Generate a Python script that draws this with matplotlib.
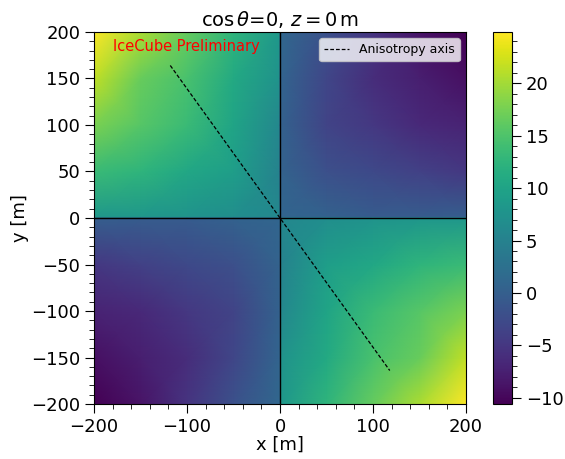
import numpy as np
import matplotlib
matplotlib.use("Agg")
import matplotlib.pyplot as plt
from matplotlib.colors import Normalize

# grid nodes of one quadrant (m)
quad_x_left = [-200, -150, -100, -50, 0]
quad_x_right = [0, 50, 100, 150, 200]
quad_y_top = [0, 50, 100, 150, 200]

# values, rows go from y=0 up to y=200
top_left = [
    [8.2, 8.0, 7.6, 6.8, 5.8],
    [13.5, 12.5, 10.6, 9.2, 5.2],
    [17.8, 15.5, 13.5, 10.2, 5.8],
    [21.5, 16.6, 14.5, 10.8, 7.3],
    [24.9, 20.4, 16.5, 12.5, 8.2],
]
top_right = [
    [1.0, 0.4, -0.4, -0.2, 0.0],
    [0.6, -2.0, -2.8, -3.8, -4.8],
    [0.4, -3.4, -4.8, -6.5, -7.2],
    [0.8, -3.2, -6.1, -7.6, -9.2],
    [1.2, -1.8, -5.3, -8.7, -10.6],
]

# anisotropy axis end points (m)
aniso_x = [-118, 118]
aniso_y = [164, -164]

vmin, vmax = -10.6, 24.9

fig = plt.figure(figsize=(5.65, 4.59), dpi=100)
ax = fig.add_axes([0.1664, 0.1198, 0.6584, 0.8105])
cax = fig.add_axes([0.8726, 0.1198, 0.0336, 0.8105])

norm = Normalize(vmin=vmin, vmax=vmax)
tl = np.array(top_left)
tr = np.array(top_right)
xl = np.array(quad_x_left)
xr = np.array(quad_x_right)
yt = np.array(quad_y_top)

# field is point symmetric: f(-x, -y) = f(x, y)
quadrants = [
    (xl, yt, tl),
    (xr, yt, tr),
    (-xl[::-1], -yt[::-1], tl[::-1, ::-1]),
    (-xr[::-1], -yt[::-1], tr[::-1, ::-1]),
]
mesh = None
for qx, qy, qv in quadrants:
    X, Y = np.meshgrid(qx, qy)
    mesh = ax.pcolormesh(X, Y, qv, shading="gouraud", cmap="viridis",
                         norm=norm)

ax.axhline(0, color="black", lw=1.0)
ax.axvline(0, color="black", lw=1.0)
ax.plot(aniso_x, aniso_y, color="black", ls=(0, (3, 1.6)), lw=0.9,
        label="Anisotropy axis")

ax.set_xlim(-200, 200)
ax.set_ylim(-200, 200)
ax.set_xticks([-200, -100, 0, 100, 200])
ax.set_yticks(np.arange(-200, 201, 50))
ax.minorticks_on()
ax.tick_params(which="major", length=6.5, labelsize=13)
ax.tick_params(which="minor", length=3.5)
ax.set_xlabel("x [m]", fontsize=13, labelpad=0)
ax.set_ylabel("y [m]", fontsize=13, labelpad=1)
ax.set_title(r"$\cos\theta$=0, $z = 0\,\mathrm{m}$", fontsize=14, pad=4)

ax.text(0.05, 0.962, "IceCube Preliminary", color="red", fontsize=10.5,
        transform=ax.transAxes, ha="left", va="center")
ax.legend(loc="upper right", fontsize=9)

cb = fig.colorbar(mesh, cax=cax)
cb.set_ticks([-10, -5, 0, 5, 10, 15, 20])
cb.ax.minorticks_on()
cb.ax.tick_params(which="major", length=6.5, labelsize=13)
cb.ax.tick_params(which="minor", length=3.5)

fig.savefig("out.png", dpi=100)
